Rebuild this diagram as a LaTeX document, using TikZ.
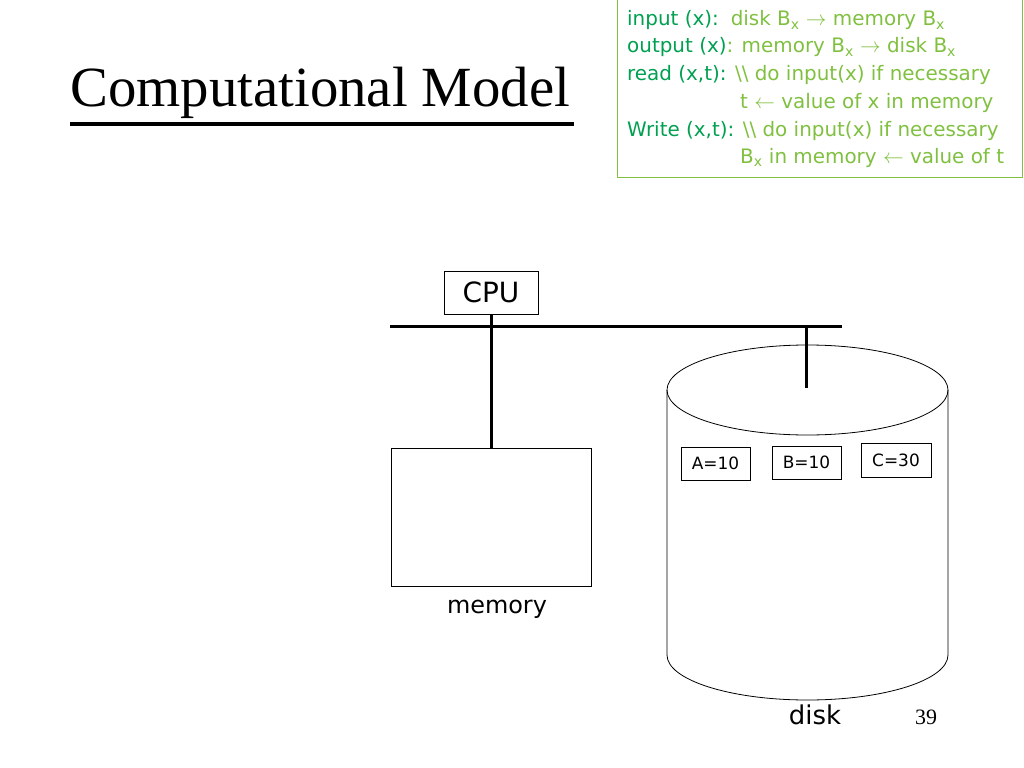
\documentclass[tikz,border=0pt]{standalone}
\usepackage{fontspec}
\setmainfont{DejaVu Sans}
\newfontfamily\serifx{Liberation Serif}
\begin{document}
\begin{tikzpicture}[x=1bp,y=-1bp,
  box/.style={draw,line width=0.8bp,inner sep=0pt,font=\fontsize{17}{19}\selectfont}]
\definecolor{dkg}{HTML}{00A050}
\definecolor{ltg}{HTML}{80C040}
\useasboundingbox (0,0) rectangle (1024,768);
% title
\node[anchor=west,inner sep=0pt,font=\serifx\fontsize{57}{62}\selectfont] (title) at (70,93) {Computational Model};
\draw[line width=3.5bp] (70,124) -- (574,124);
% green box
\draw[ltg,line width=1bp] (617,0) rectangle (1022,177);
\begin{scope}[every node/.style={anchor=base west,inner sep=0pt,font=\fontsize{20}{22}\selectfont,text=ltg}]
\node (l1) at (627,26) {\textcolor{dkg}{input (x):}\hspace{0.6em}disk B\textsubscript{x} $\rightarrow$ memory B\textsubscript{x}};
\node (l2) at (627,53) {\textcolor{dkg}{output (x)}: memory B\textsubscript{x} $\rightarrow$ disk B\textsubscript{x}};
\node (l3) at (627,81) {\textcolor{dkg}{read (x,t):} \textbackslash\textbackslash\ do input(x) if necessary};
\node (l4) at (740,108) {t $\leftarrow$ value of x in memory};
\node (l5) at (627,136) {\textcolor{dkg}{Write (x,t):} \textbackslash\textbackslash\ do input(x) if necessary};
\node (l6) at (740,163) {B\textsubscript{x} in memory $\leftarrow$ value of t};
\end{scope}
% CPU, bus, memory
\node[draw,line width=0.8bp,minimum width=94bp,minimum height=43bp,font=\fontsize{28}{30}\selectfont] (cpu) at (491,292.5) {CPU};
\draw[line width=3bp] (390,326) coordinate (busl) -- (842,326) coordinate (busr);
\node[draw,line width=0.8bp,minimum width=200bp,minimum height=138bp] (mem) at (491,517) {};
\draw[line width=3bp] (cpu.south) -- (mem.north);
\node[font=\fontsize{24}{26}\selectfont] (memlbl) at (497,609) {memory};
% disk
\draw[line width=0.8bp] (667,390) arc[start angle=180,end angle=-180,x radius=140.5bp,y radius=45bp];
\draw[line width=0.8bp] (667,390) -- (667,655) arc[start angle=180,end angle=360,x radius=140.5bp,y radius=45bp] -- (948,390);
\coordinate (dtop) at (806,388);
\draw[line width=3bp] (806,326) -- (dtop);
\node[box,minimum width=69bp,minimum height=33bp] (a) at (715.5,463.5) {A=10};
\node[box,minimum width=69bp,minimum height=33bp] (b) at (806.5,462.5) {B=10};
\node[box,minimum width=70bp,minimum height=34bp] (c) at (896,460) {C=30};
\node[font=\fontsize{26}{28}\selectfont] (disk) at (815,715) {disk};
\node[font=\serifx\fontsize{22}{24}\selectfont] (pg) at (926,717) {39};
\end{tikzpicture}
\end{document}
